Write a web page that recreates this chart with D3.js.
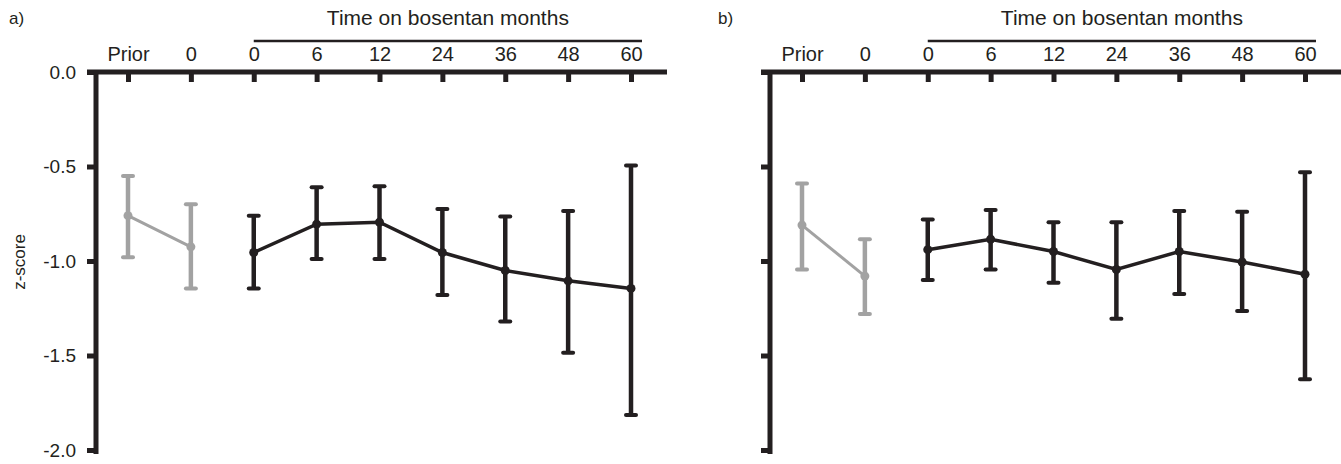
<!DOCTYPE html>
<html>
<head>
<meta charset="utf-8">
<script src="https://cdn.jsdelivr.net/npm/d3@7"></script>
<style>
  body { margin: 0; background: #fff; }
  text { font-family: "Liberation Sans", Arial, sans-serif; fill: #231f20; }
</style>
</head>
<body>
<script>
var WIDTH = 1341,
    HEIGHT = 464;

var INK = "#231f20",
    GREY = "#a2a2a2";

// categories along the top axis
var categories = ["Prior", "0", "0", "6", "12", "24", "36", "48", "60"];
var yTicks = [0, -0.5, -1.0, -1.5, -2.0];

// panel a) mean z-score with error bar ends
var meanA  = [-0.76, -0.925, -0.955, -0.805, -0.795, -0.955, -1.05, -1.105, -1.145];
var upperA = [-0.55, -0.70, -0.76, -0.61, -0.605, -0.725, -0.765, -0.735, -0.495];
var lowerA = [-0.98, -1.145, -1.145, -0.99, -0.99, -1.18, -1.32, -1.485, -1.815];

// panel b)
var meanB  = [-0.81, -1.08, -0.94, -0.885, -0.95, -1.045, -0.95, -1.005, -1.07];
var upperB = [-0.59, -0.885, -0.78, -0.73, -0.795, -0.795, -0.735, -0.74, -0.53];
var lowerB = [-1.045, -1.28, -1.10, -1.045, -1.115, -1.305, -1.175, -1.265, -1.625];

// first two points are before treatment (grey)
var nPrior = 2;

var svg = d3.select("body").append("svg")
    .attr("width", WIDTH)
    .attr("height", HEIGHT);

var y = d3.scaleLinear().domain([0, -2]).range([72, 450]);

var fmt = function(d){ return d3.format(".1f")(d).replace("\u2212", "-"); };

var drawPanel = function(offset, letter, letterX, mean, upper, lower, showY){
  var g = svg.append("g").attr("transform", "translate(" + offset + ",0)");

  var x = d3.scalePoint().domain(d3.range(categories.length)).range([128, 631]);

  // panel letter
  g.append("text")
    .attr("x", letterX).attr("y", 24)
    .style("font-size", "17px")
    .text(letter);

  // "Time on bosentan" header with rule
  g.append("line")
    .attr("x1", x(2)).attr("x2", x(8) + 11)
    .attr("y1", 41).attr("y2", 41)
    .attr("stroke", INK).attr("stroke-width", 2.5);
  g.append("text")
    .attr("x", (x(2) + x(8) + 11) / 2).attr("y", 25)
    .attr("text-anchor", "middle")
    .style("font-size", "21px")
    .text("Time on bosentan months");

  // top x axis: ticks point down, labels above
  var xAxis = d3.axisTop(x)
    .tickSizeInner(-10).tickSizeOuter(0).tickPadding(11)
    .tickFormat(function(i){ return categories[i]; });
  var ax = g.append("g").attr("transform", "translate(0,72)").call(xAxis);
  ax.select(".domain").remove();
  ax.selectAll("line").attr("stroke", INK).attr("stroke-width", 5);
  ax.selectAll("text")
    .style("font-size", "20px")
    .style("font-family", "'Liberation Sans', Arial, sans-serif")
    .attr("fill", INK);

  // y axis on the left
  var yAxis = d3.axisLeft(y)
    .tickValues(yTicks).tickSizeInner(9).tickSizeOuter(0).tickPadding(11)
    .tickFormat(showY ? fmt : "");
  var ay = g.append("g").attr("transform", "translate(96,0)").call(yAxis);
  ay.select(".domain").remove();
  ay.selectAll("line").attr("stroke", INK).attr("stroke-width", 5);
  ay.selectAll("text")
    .style("font-size", "19px")
    .style("font-family", "'Liberation Sans', Arial, sans-serif")
    .attr("fill", INK);

  // axis lines
  g.append("line")
    .attr("x1", 87).attr("x2", 667)
    .attr("y1", y(0)).attr("y2", y(0))
    .attr("stroke", INK).attr("stroke-width", 5);
  g.append("line")
    .attr("x1", 96).attr("x2", 96)
    .attr("y1", y(0) - 2).attr("y2", y(-2) + 4)
    .attr("stroke", INK).attr("stroke-width", 5);

  var pts = d3.range(categories.length).map(function(i){
    return {i: i, m: mean[i], hi: upper[i], lo: lower[i], c: i < nPrior ? GREY : INK};
  });

  var line = d3.line()
    .x(function(d){ return x(d.i); })
    .y(function(d){ return y(d.m); });

  g.append("path").datum(pts.slice(0, nPrior))
    .attr("d", line).attr("fill", "none")
    .attr("stroke", GREY).attr("stroke-width", 3);
  g.append("path").datum(pts.slice(nPrior))
    .attr("d", line).attr("fill", "none")
    .attr("stroke", INK).attr("stroke-width", 3.5);

  var bars = g.selectAll(".err").data(pts).enter().append("g").attr("class", "err");
  bars.append("line")
    .attr("x1", function(d){ return x(d.i); }).attr("x2", function(d){ return x(d.i); })
    .attr("y1", function(d){ return y(d.hi); }).attr("y2", function(d){ return y(d.lo); })
    .attr("stroke", function(d){ return d.c; }).attr("stroke-width", 4.5);
  ["hi", "lo"].forEach(function(k){
    bars.append("line")
      .attr("x1", function(d){ return x(d.i) - 5; }).attr("x2", function(d){ return x(d.i) + 5; })
      .attr("y1", function(d){ return y(d[k]); }).attr("y2", function(d){ return y(d[k]); })
      .attr("stroke", function(d){ return d.c; })
      .attr("stroke-width", 4).attr("stroke-linecap", "round");
  });
  bars.append("circle")
    .attr("cx", function(d){ return x(d.i); })
    .attr("cy", function(d){ return y(d.m); })
    .attr("r", 4.5)
    .attr("fill", function(d){ return d.c; });

  return g;
};

drawPanel(0, "a)", 9, meanA, upperA, lowerA, true);
drawPanel(674, "b)", 44, meanB, upperB, lowerB, false);

svg.append("text")
  .attr("transform", "translate(25,262) rotate(-90)")
  .attr("text-anchor", "middle")
  .style("font-size", "17px")
  .text("z-score");
</script>
</body>
</html>
